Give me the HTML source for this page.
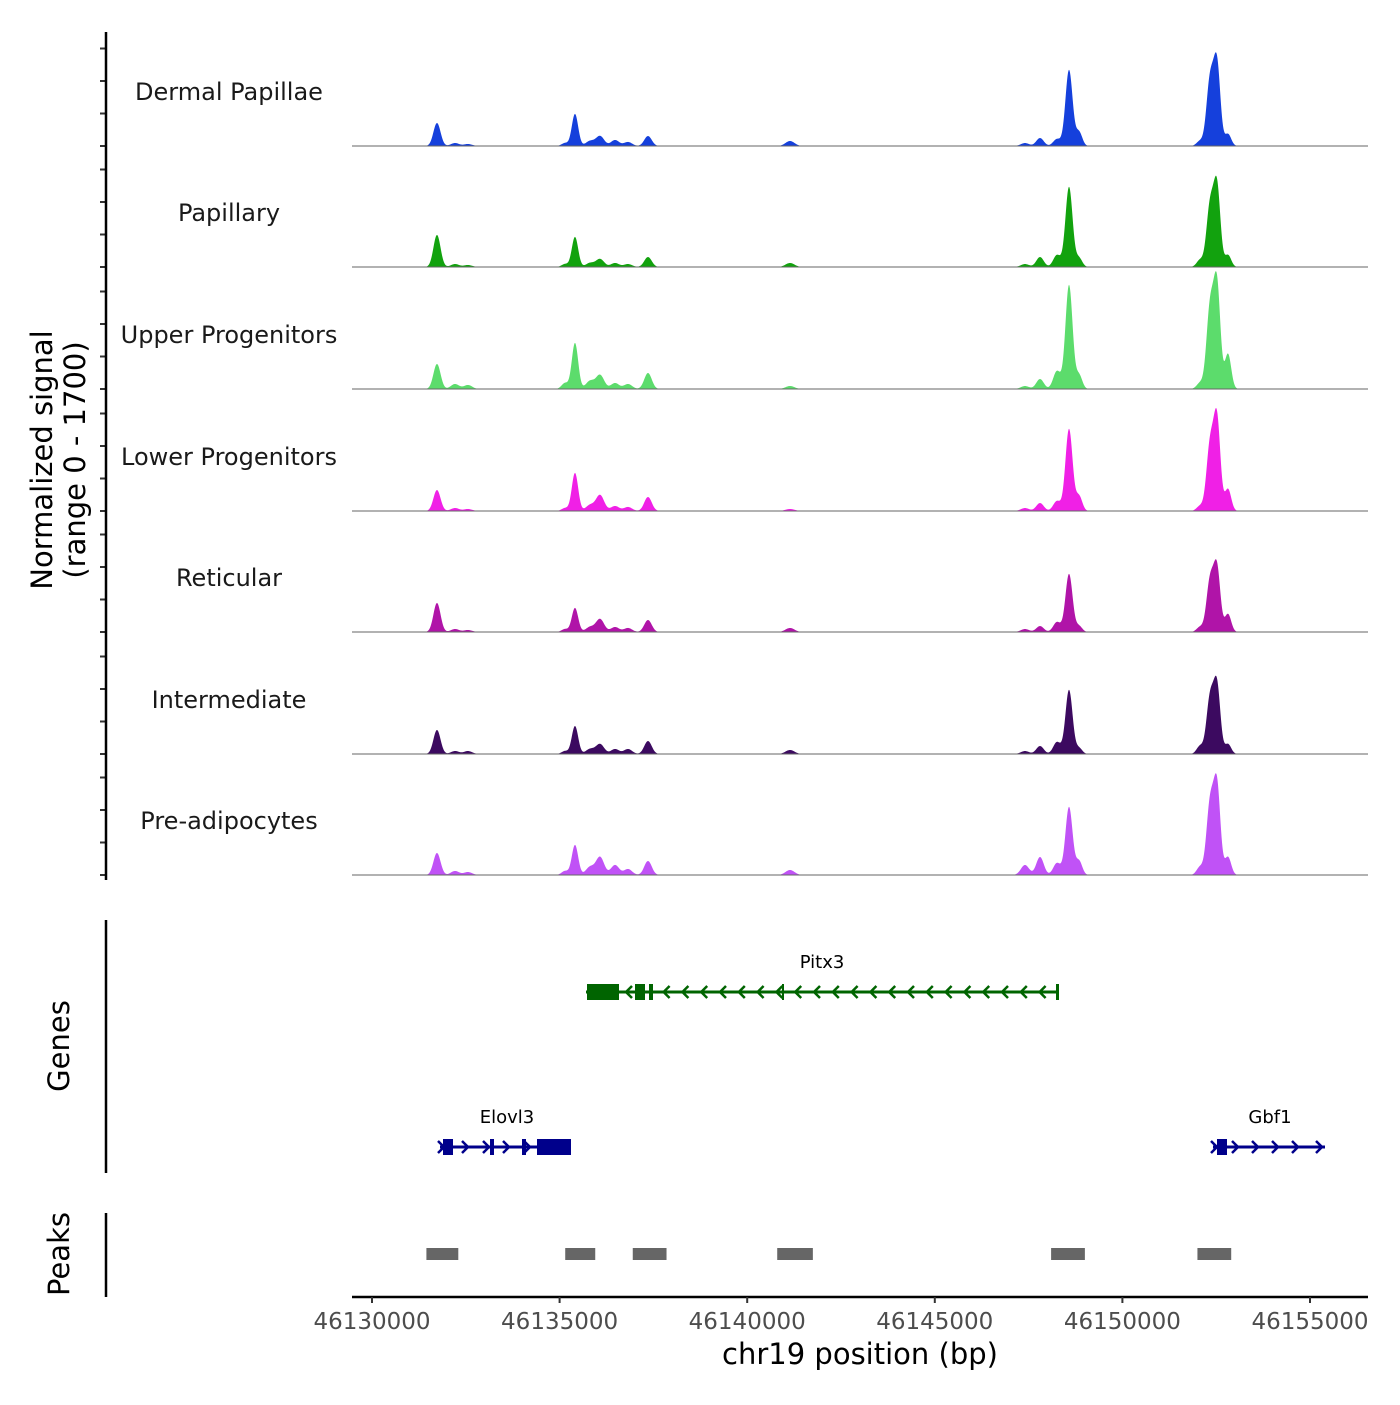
<!DOCTYPE html>
<html><head><meta charset="utf-8"><style>
body{margin:0;background:#fff}
svg text{font-family:"DejaVu Sans","Liberation Sans",sans-serif}
</style></head><body>
<svg id="c" width="1400" height="1400" viewBox="0 0 1400 1400" xmlns="http://www.w3.org/2000/svg">
<g id="tracks"></g>
<g id="genes"></g>
<g id="peaks"></g>
<g id="axes"></g>
</svg>
<script>
const trackNames=["Dermal Papillae","Papillary","Upper Progenitors","Lower Progenitors","Reticular","Intermediate","Pre-adipocytes"];
const trackColors=["#1540dc","#12a20e","#5cdc6c","#f020e6","#b014a8","#3c0a60","#c052f6"];
const peakCenters=[46131732,46132212,46132559,46135144,46135410,46135810,46136077,46136477,46136823,46137356,46141141,46147404,46147804,46148257,46148577,46148844,46152068,46152335,46152521,46152814];
const peakSigmas=[95,110,110,90,85,110,110,110,110,100,120,110,100,100,95,85,90,95,90,85];
const sigDermal=[354,46,31,46,493,77,154,92,62,154,77,46,123,108,1170,216,77,1000,1250,185];
const sigPapillary=[493,46,31,46,462,62,123,62,46,154,62,46,154,185,1232,139,108,930,1230,185];
const sigUpper=[385,77,62,92,708,123,216,92,77,246,46,46,154,277,1600,216,92,1230,1580,539];
const sigLower=[323,46,31,46,585,92,246,77,62,216,31,46,123,154,1263,231,77,1000,1400,339];
const sigReticular=[447,46,31,46,370,77,200,77,62,185,62,46,92,154,893,92,77,780,970,277];
const sigIntermediate=[370,46,46,46,431,77,154,77,77,200,62,46,123,185,986,92,123,850,1040,154];
const sigPreadip=[339,62,46,62,462,123,277,154,92,216,77,154,277,185,1047,216,123,1080,1360,277];
const signals=[sigDermal,sigPapillary,sigUpper,sigLower,sigReticular,sigIntermediate,sigPreadip];
const xTicks=[46130000,46135000,46140000,46145000,46150000,46155000];
const yTicks=[0,500,1000,1500];
const peakStarts=[46131450,46135150,46136950,46140800,46148100,46152000];
const peakEnds=[46132300,46135950,46137850,46141750,46149000,46152900];

const NS="http://www.w3.org/2000/svg";
const X0=352,X1=1368;
const x=bp=>372+(bp-46130000)*(938/25000);
const baselines=[146,267,389,511,632,754,875];
const yScale=v=>v*0.065;
function mk(tag,attrs,parent){const e=document.createElementNS(NS,tag);for(const k in attrs)e.setAttribute(k,attrs[k]);parent.appendChild(e);return e;}
const T=document.getElementById('tracks'),G=document.getElementById('genes'),P=document.getElementById('peaks'),A=document.getElementById('axes');

signals.forEach((sig,t)=>{
  const b=baselines[t];
  let d=`M${X0},${b}`;
  for(let px=X0;px<=X1;px+=0.5){
    const bp=46130000+(px-372)*25000/938;
    let v=0;
    for(let i=0;i<peakCenters.length;i++){const z=(bp-peakCenters[i])/peakSigmas[i];if(Math.abs(z)<6)v+=sig[i]*Math.exp(-z*z/2);}
    d+=`L${px},${(b-yScale(v)).toFixed(2)}`;
  }
  d+=`L${X1},${b}Z`;
  const p=mk('path',{d:d,fill:trackColors[t]},T);
  
  
  const l=mk('line',{x1:X0,x2:X1,y1:b,y2:b,stroke:'#666','stroke-width':1},T);
  
  
  const tx=mk('text',{x:229,y:b-46,'font-size':24,'text-anchor':'middle',fill:'#1a1a1a'},T);
  tx.textContent=trackNames[t];
  
  
  yTicks.forEach(v=>{
    const tk=mk('line',{x1:100,x2:106,y1:b-yScale(v),y2:b-yScale(v),stroke:'#333','stroke-width':2},A);
    
    
  });
});
const ya=mk('line',{x1:106,x2:106,y1:32,y2:880,stroke:'#000','stroke-width':2.5},A);

const yt=mk('text',{transform:'translate(52,460) rotate(-90)','font-size':29,'text-anchor':'middle',fill:'#000'},A);

yt.innerHTML='<tspan x="0" dy="0">Normalized signal</tspan><tspan x="0" dy="33">(range 0 - 1700)</tspan>';

function gene(name,y,color,x1,x2,exons,strand,arrowXs,lx){
  const g=mk('g',{},G);
  
  
  mk('line',{x1:x1,x2:x2,y1:y,y2:y,stroke:color,'stroke-width':3},g);
  exons.forEach(e=>mk('rect',{x:e[0],y:y-8,width:e[1]-e[0],height:16,fill:color},g));
  arrowXs.forEach(ax=>{const s=strand>0?-1:1;mk('polyline',{points:`${ax+s*6},${y-6} ${ax},${y} ${ax+s*6},${y+6}`,fill:'none',stroke:color,'stroke-width':2.5},g);});
  const t=mk('text',{x:lx,y:y-24,'font-size':18,'text-anchor':'middle',fill:'#000'},g);t.textContent=name;
}
const pitxArrows=[];for(let a=626;a<1055;a+=18.8)if(a>655||a<632)pitxArrows.push(a);
gene('Pitx3',992,'#006400',586,1058,[[587,619],[635,645],[649,653],[782,784],[1056,1059]],-1,pitxArrows,822);
gene('Elovl3',1147,'#00008b',440,571,[[443,453],[490,494],[522,526],[537,571]],1,[444,468,489,509,530],507);
gene('Gbf1',1147,'#00008b',1213,1325,[[1217,1227]],1,[1217,1238,1258,1278,1298,1322],1270);
const gl=mk('line',{x1:106,x2:106,y1:920,y2:1173,stroke:'#000','stroke-width':2.5},A);

const gt=mk('text',{transform:'translate(69,1046) rotate(-90)','font-size':29,'text-anchor':'middle'},A);gt.textContent='Genes';


peakStarts.forEach((s,i)=>{
  const r=mk('rect',{x:x(s),y:1248,width:x(peakEnds[i])-x(s),height:12,fill:'#666'},P);
  
  
});
const pl=mk('line',{x1:106,x2:106,y1:1213,y2:1297,stroke:'#000','stroke-width':2.5},A);

const pt=mk('text',{transform:'translate(69,1254) rotate(-90)','font-size':29,'text-anchor':'middle'},A);pt.textContent='Peaks';


const xa=mk('line',{x1:X0,x2:X1,y1:1297,y2:1297,stroke:'#000','stroke-width':2.5},A);

xTicks.forEach(v=>{
  const tk=mk('line',{x1:x(v),x2:x(v),y1:1297,y2:1303,stroke:'#333','stroke-width':2},A);
  
  const tl=mk('text',{x:x(v),y:1329,'font-size':23,'text-anchor':'middle',fill:'#4d4d4d'},A);
  tl.textContent=v;
  
});
const xt=mk('text',{x:860,y:1364,'font-size':29,'text-anchor':'middle'},A);xt.textContent='chr19 position (bp)';

</script>
</body></html>
